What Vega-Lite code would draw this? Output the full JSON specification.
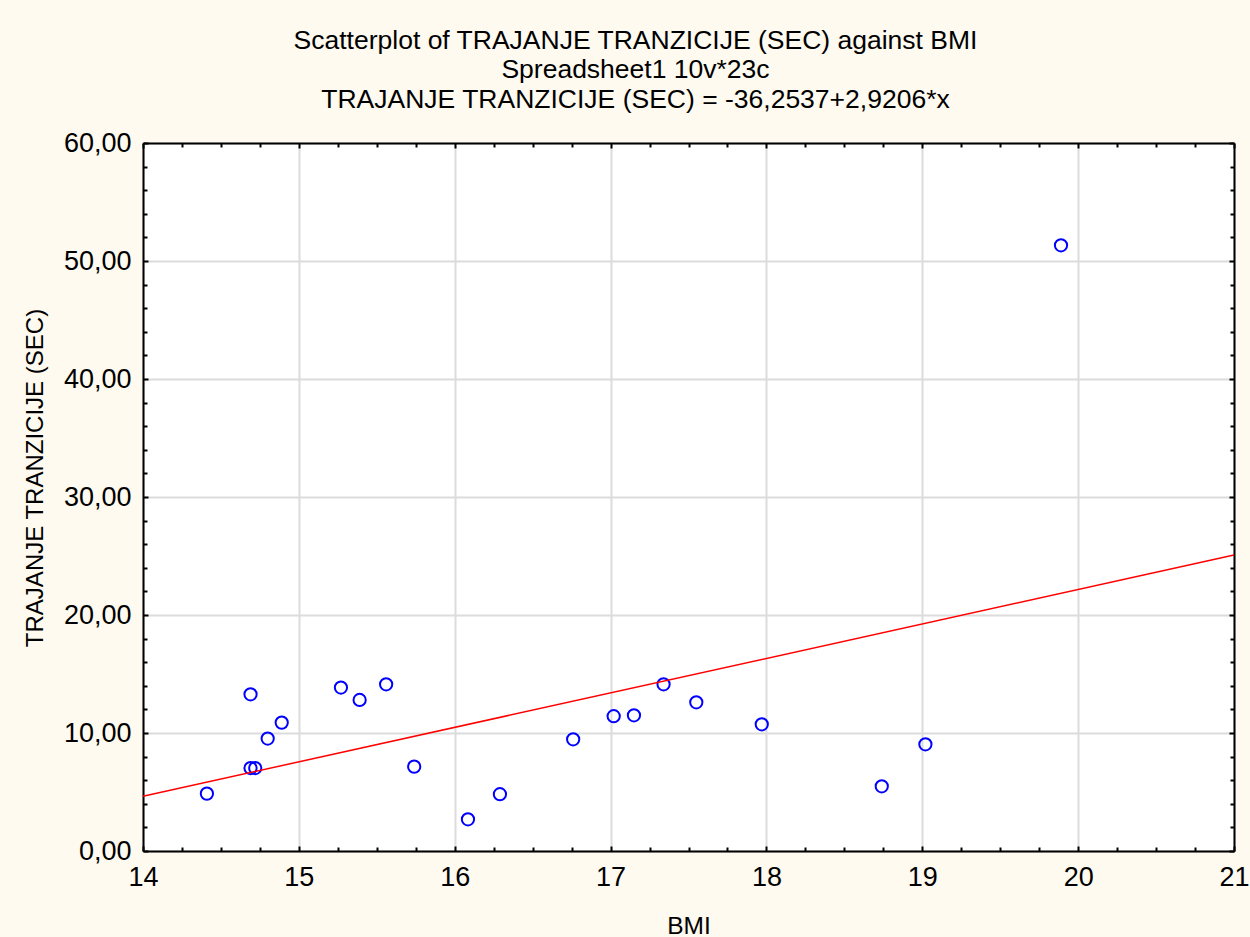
{
  "$schema": "https://vega.github.io/schema/vega-lite/v6.json",
  "autosize": {"type": "none"},
  "width": 1091,
  "height": 708,
  "padding": {"left": 143, "top": 143, "right": 16, "bottom": 86},
  "background": "#FEFAF0",
  "config": {
    "view": {"fill": "white", "stroke": null},
    "font": "Liberation Sans",
    "axis": {"labelFont": "Liberation Sans", "titleFont": "Liberation Sans", "labelColor": "black", "titleColor": "black", "titleFontWeight": "normal"}
  },
  "title": {
    "text": ["Scatterplot of TRAJANJE TRANZICIJE (SEC) against BMI", "Spreadsheet1 10v*23c", "TRAJANJE TRANZICIJE (SEC) = -36,2537+2,9206*x"],
    "fontSize": 26.5,
    "fontWeight": "normal",
    "font": "Liberation Sans",
    "color": "black",
    "lineHeight": 29.5,
    "anchor": "middle",
    "dx": -53,
    "offset": 16
  },
  "datasets": {
    "pts": [
      {"BMI": 14.41, "T": 4.86},
      {"BMI": 14.69, "T": 7.03},
      {"BMI": 14.72, "T": 7.03},
      {"BMI": 14.69, "T": 13.28},
      {"BMI": 14.80, "T": 9.53},
      {"BMI": 14.89, "T": 10.88},
      {"BMI": 15.27, "T": 13.85},
      {"BMI": 15.39, "T": 12.80},
      {"BMI": 15.56, "T": 14.13},
      {"BMI": 15.74, "T": 7.15},
      {"BMI": 16.085, "T": 2.69},
      {"BMI": 16.29, "T": 4.81},
      {"BMI": 16.76, "T": 9.47},
      {"BMI": 17.02, "T": 11.42},
      {"BMI": 17.15, "T": 11.5},
      {"BMI": 17.34, "T": 14.13},
      {"BMI": 17.55, "T": 12.6},
      {"BMI": 17.97, "T": 10.74},
      {"BMI": 18.74, "T": 5.48},
      {"BMI": 19.02, "T": 9.04},
      {"BMI": 19.89, "T": 51.33}
    ],
    "fit": [
      {"BMI": 14, "T": 4.635},
      {"BMI": 21, "T": 25.083}
    ]
  },
  "layer": [
    {
      "data": {"name": "pts"},
      "mark": {"type": "point", "shape": "circle", "filled": false, "color": "#0000FF", "strokeWidth": 2, "size": 150, "opacity": 1},
      "encoding": {
        "x": {
          "field": "BMI", "type": "quantitative",
          "scale": {"domain": [14, 21], "nice": false, "zero": false},
          "axis": {
            "orient": "bottom",
            "title": "BMI",
            "titleFontSize": 24.5,
            "titleX": 545.5,
            "titleY": 82,
            "titleBaseline": "alphabetic",
            "values": [14,14.25,14.5,14.75,15,15.25,15.5,15.75,16,16.25,16.5,16.75,17,17.25,17.5,17.75,18,18.25,18.5,18.75,19,19.25,19.5,19.75,20,20.25,20.5,20.75,21],
            "labelExpr": "datum.value % 1 == 0 ? format(datum.value, 'd') : ''",
            "labelFontSize": 27,
            "labelPadding": 18,
            "labelFlush": false,
            "labelOverlap": false,
            "tickSize": {"condition": {"test": "datum.value % 1 == 0", "value": -5}, "value": -4},
            "tickColor": "black",
            "tickWidth": 2,
            "domainColor": "black",
            "domainWidth": 2,
            "grid": true,
            "gridColor": "#DCDCDC",
            "gridWidth": 2,
            "gridOpacity": {"condition": {"test": "datum.value % 1 == 0", "value": 1}, "value": 0}
          }
        },
        "y": {
          "field": "T", "type": "quantitative",
          "scale": {"domain": [0, 60], "nice": false},
          "axis": {
            "orient": "left",
            "title": "TRAJANJE TRANZICIJE (SEC)",
            "titleFontSize": 24,
            "titleX": -108,
            "titleY": 334.5,
            "titleBaseline": "middle",
            "titleAngle": -90,
            "values": [0,2,4,6,8,10,12,14,16,18,20,22,24,26,28,30,32,34,36,38,40,42,44,46,48,50,52,54,56,58,60],
            "labelExpr": "datum.value % 10 == 0 ? replace(format(datum.value, '.2f'), '.', ',') : ''",
            "labelFontSize": 27,
            "labelPadding": 17,
            "labelFlush": false,
            "labelOverlap": false,
            "tickSize": {"condition": {"test": "datum.value % 10 == 0", "value": -5}, "value": -4},
            "tickColor": "black",
            "tickWidth": 2,
            "domainColor": "black",
            "domainWidth": 2,
            "grid": true,
            "gridColor": "#DCDCDC",
            "gridWidth": 2,
            "gridOpacity": {"condition": {"test": "datum.value % 10 == 0", "value": 1}, "value": 0}
          }
        }
      }
    },
    {
      "data": {"name": "fit"},
      "mark": {"type": "line", "color": "#FF0000", "strokeWidth": 1.5},
      "encoding": {
        "x": {
          "field": "BMI", "type": "quantitative",
          "scale": {"domain": [14, 21], "nice": false, "zero": false},
          "axis": {
            "orient": "top",
            "title": null,
            "labels": false,
            "values": [14,14.25,14.5,14.75,15,15.25,15.5,15.75,16,16.25,16.5,16.75,17,17.25,17.5,17.75,18,18.25,18.5,18.75,19,19.25,19.5,19.75,20,20.25,20.5,20.75,21],
            "tickSize": {"condition": {"test": "datum.value % 1 == 0", "value": -5}, "value": -4},
            "tickColor": "black",
            "tickWidth": 2,
            "domainColor": "black",
            "domainWidth": 2,
            "grid": false
          }
        },
        "y": {
          "field": "T", "type": "quantitative",
          "scale": {"domain": [0, 60], "nice": false},
          "axis": {
            "orient": "right",
            "title": null,
            "labels": false,
            "values": [0,2,4,6,8,10,12,14,16,18,20,22,24,26,28,30,32,34,36,38,40,42,44,46,48,50,52,54,56,58,60],
            "tickSize": {"condition": {"test": "datum.value % 10 == 0", "value": -5}, "value": -4},
            "tickColor": "black",
            "tickWidth": 2,
            "domainColor": "black",
            "domainWidth": 2,
            "grid": false
          }
        }
      }
    }
  ],
  "resolve": {"axis": {"x": "independent", "y": "independent"}}
}
